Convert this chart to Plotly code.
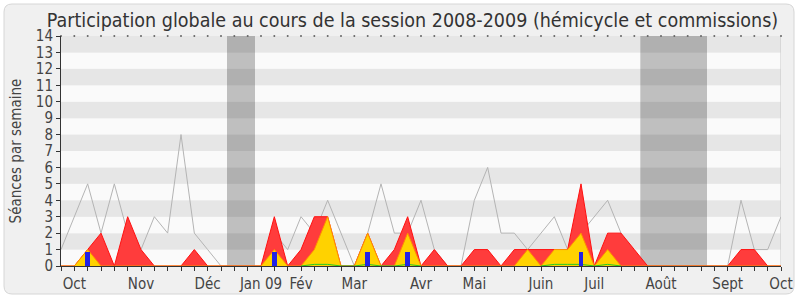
import plotly.graph_objects as go

# ---- data (weekly values, session 2008-2009) ----
weeks = list(range(55))
median_presence = [1, 3, 5, 2, 5, 2, 1, 3, 2, 8, 2, 1, 0, 0, 0, 0, 2, 1, 3, 2, 4, 2, 0, 2, 5, 2, 2, 4, 1, 0,
                   0, 4, 6, 2, 2, 1, 2, 3, 1, 2, 3, 4, 2, 0, 0, 0, 0, 0, 0, 0, 0, 4, 1, 1, 3]
presence_total = [0, 0, 1, 2, 0, 3, 1, 0, 0, 0, 1, 0, 0, 0, 0, 0, 3, 0, 1, 3, 3, 0, 0, 2, 0, 1, 3, 0, 1, 0,
                  0, 1, 1, 0, 1, 1, 1, 1, 1, 5, 0, 2, 2, 1, 0, 0, 0, 0, 0, 0, 0, 1, 1, 0, 0]
presence_commission = [0, 0, 1, 0, 0, 0, 0, 0, 0, 0, 0, 0, 0, 0, 0, 0, 1, 0, 0, 1, 3, 0, 0, 2, 0, 0, 2, 0, 0, 0,
                       0, 0, 0, 0, 0, 1, 0, 1, 1, 2, 0, 1, 0, 0, 0, 0, 0, 0, 0, 0, 0, 0, 0, 0, 0]
interventions = [0, 0, 0, 0, 0, 0, 0, 0, 0, 0, 0, 0, 0, 0, 0, 0, 0, 0, 0, 0.1, 0.1, 0, 0, 0.1, 0, 0, 0.1, 0, 0, 0,
                 0, 0, 0, 0, 0, 0, 0, 0.1, 0.1, 0.1, 0, 0.1, 0, 0, 0, 0, 0, 0, 0, 0, 0, 0, 0, 0, 0]
question_weeks = [2, 16, 23, 26, 39]
question_values = [0.85, 0.85, 0.85, 0.85, 0.85]
vacation_start = [12.45, 43.45]
vacation_end = [14.55, 48.45]
month_weeks = [1, 6, 11, 15, 18, 22, 27, 31, 36, 40, 45, 50, 54]
month_labels = ["Oct", "Nov", "Déc", "Jan 09", "Fév", "Mar", "Avr", "Mai", "Juin", "Juil", "Août", "Sept", "Oct"]
y_max = 14

FONT = "DejaVu Sans Condensed, DejaVu Sans, sans-serif"

ticktext = [month_labels[month_weeks.index(w)] if w in month_weeks else "" for w in weeks]

# show the thin green line only around its non-zero weeks (zero stretches sit under the axis)
n = len(interventions)
interventions_shown = [
    v if (v > 0 or (i > 0 and interventions[i - 1] > 0) or (i < n - 1 and interventions[i + 1] > 0)) else None
    for i, v in enumerate(interventions)
]

fig = go.Figure()

fig.add_trace(go.Scatter(x=weeks, y=median_presence, mode="lines",
                         line=dict(color="#b4b4b4", width=1), hoverinfo="skip"))
fig.add_trace(go.Scatter(x=weeks, y=presence_total, mode="lines", fill="tozeroy",
                         line=dict(color="#ff1010", width=1), fillcolor="#ff3c3c", hoverinfo="skip"))
fig.add_trace(go.Scatter(x=weeks, y=presence_commission, mode="lines", fill="tozeroy",
                         line=dict(color="#ff9000", width=1), fillcolor="#ffd200", hoverinfo="skip"))
fig.add_trace(go.Scatter(x=weeks, y=interventions_shown, mode="lines", connectgaps=False,
                         line=dict(color="#22cc22", width=1), hoverinfo="skip"))
fig.add_trace(go.Scatter(x=weeks, y=[y_max] * len(weeks), mode="markers", cliponaxis=False,
                         marker=dict(size=2, color="#666666"), hoverinfo="skip"))
fig.add_trace(go.Bar(x=question_weeks, y=question_values, width=0.34, marker=dict(color="#2222e6", line=dict(width=0)),
                     xaxis="x", yaxis="y2", hoverinfo="skip"))

shapes = []
def px_to_paper_x(px):
    return (px - 61) / 720.0
def px_to_paper_y(py):
    return (266 - py) / 230.0
x0, x1, y0, y1, r = 4, 794, 4, 294, 8
path = (f"M {px_to_paper_x(x0 + r)},{px_to_paper_y(y0)} L {px_to_paper_x(x1 - r)},{px_to_paper_y(y0)} "
        f"Q {px_to_paper_x(x1)},{px_to_paper_y(y0)} {px_to_paper_x(x1)},{px_to_paper_y(y0 + r)} "
        f"L {px_to_paper_x(x1)},{px_to_paper_y(y1 - r)} "
        f"Q {px_to_paper_x(x1)},{px_to_paper_y(y1)} {px_to_paper_x(x1 - r)},{px_to_paper_y(y1)} "
        f"L {px_to_paper_x(x0 + r)},{px_to_paper_y(y1)} "
        f"Q {px_to_paper_x(x0)},{px_to_paper_y(y1)} {px_to_paper_x(x0)},{px_to_paper_y(y1 - r)} "
        f"L {px_to_paper_x(x0)},{px_to_paper_y(y0 + r)} "
        f"Q {px_to_paper_x(x0)},{px_to_paper_y(y0)} {px_to_paper_x(x0 + r)},{px_to_paper_y(y0)} Z")
shapes.append(dict(type="path", xref="paper", yref="paper", path=path, layer="below",
                   fillcolor="#f0f0f0", line=dict(color="#d6d6d6", width=1)))
for k in range(y_max):
    shapes.append(dict(type="rect", xref="x", yref="y", x0=weeks[0], x1=weeks[-1], y0=k, y1=k + 1,
                       layer="below", line=dict(width=0),
                       fillcolor="#fafafa" if k % 2 == 0 else "#e6e6e6"))
for s, e in zip(vacation_start, vacation_end):
    shapes.append(dict(type="rect", xref="x", yref="y", x0=s, x1=e, y0=0, y1=y_max,
                       layer="below", line=dict(width=0), fillcolor="rgba(0,0,0,0.235)"))
shapes.append(dict(type="line", xref="x", yref="y", x0=weeks[-1], x1=weeks[-1], y0=0, y1=y_max,
                   layer="below", line=dict(color="#c8c8c8", width=1)))

fig.update_layout(
    width=800, height=300,
    margin=dict(l=61, r=19, t=36, b=34, pad=0, autoexpand=False),
    paper_bgcolor="white", plot_bgcolor="#fafafa",
    showlegend=False,
    shapes=shapes,
    font=dict(family=FONT, color="#444444"),
    title=dict(text="Participation globale au cours de la session 2008-2009 (hémicycle et commissions)",
               x=412.5 / 800, xref="container", xanchor="center",
               y=1 - 20 / 300, yref="container", yanchor="middle",
               font=dict(family=FONT, size=19.5, color="#333333")),
    xaxis=dict(range=[weeks[0], weeks[-1]], tickmode="array", tickvals=weeks, ticktext=ticktext,
               ticks="outside", ticklen=4, tickwidth=1, tickcolor="#333333", automargin=False,
               showline=True, linecolor="#333333", linewidth=1, showgrid=False, zeroline=False,
               tickfont=dict(family=FONT, size=15, color="#444444"), fixedrange=True),
    yaxis=dict(range=[0, y_max], dtick=1, tick0=0, ticks="outside", ticklen=4, tickwidth=1,
               tickcolor="#333333", showline=True, linecolor="#333333", linewidth=1,
               showgrid=False, zeroline=False, automargin=False,
               title=dict(text="Séances par semaine", standoff=10,
                          font=dict(family=FONT, size=15, color="#444444")),
               tickfont=dict(family=FONT, size=15, color="#444444"), fixedrange=True),
    yaxis2=dict(range=[0, y_max], overlaying="y", visible=False, fixedrange=True, automargin=False),
    bargap=0,
)

fig.write_html("out.html")
